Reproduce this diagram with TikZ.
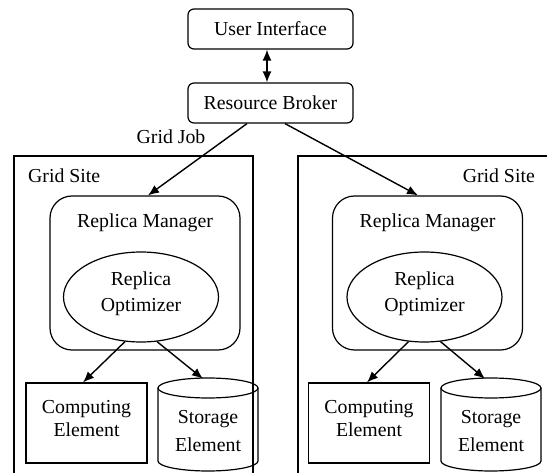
\documentclass[tikz,border=0pt]{standalone}
\usepackage{fontspec}
\setmainfont{Liberation Serif}
\usetikzlibrary{arrows.meta,calc,shapes.geometric}
\begin{document}
\begin{tikzpicture}[x=1pt,y=1pt,
  every node/.style={font=\fontsize{19.8}{27}\selectfont, inner sep=0pt},
  rbox/.style={draw, line width=1.2pt, rounded corners=6pt, minimum width=165pt, minimum height=40pt},
  site/.style={draw, line width=1.2pt},
  mgr/.style={draw, line width=1.2pt, rounded corners=22pt, minimum width=190pt, minimum height=154pt},
  opt/.style={draw, line width=1.2pt, ellipse, minimum width=155pt, minimum height=90pt},
  ce/.style={draw, line width=1.2pt, minimum width=121pt, minimum height=80pt},
  sebox/.style={minimum width=100pt, minimum height=93pt},
  cyl/.style={line width=1.2pt},
  txt/.style={align=center},
  arr/.style={line width=1.4pt, -{Latex[length=11pt,width=9pt]}},
  darr/.style={line width=1.4pt, {Latex[length=11pt,width=9pt]}-{Latex[length=11pt,width=9pt]}},
  lbl/.style={anchor=base}
]
\useasboundingbox (0,0) rectangle (547,-473);
% top
\node[rbox] (ui) at (270.5,-29) {User Interface};
\node[rbox] (rb) at (270.5,-103) {Resource Broker};
\node[lbl] (gj) at (171,-144) {Grid Job};
% sites
\draw[site] (14,-520) -- (14,-156) -- (253,-156) -- (253,-520);
\draw[site] (298,-520) -- (298,-156) -- (600,-156);
\node[lbl, anchor=base west] (gs1) at (28,-183) {Grid Site};
\node[lbl, anchor=base east] (gs2) at (535,-183) {Grid Site};
% left site
\node[mgr] (rm1) at (145,-273) {};
\node[lbl] (rmt1) at (145,-228) {Replica Manager};
\node[opt] (op1) at (141,-297) {};
\node[txt] (opt1) at (141,-293.7) {Replica\\[-0.3pt]Optimizer};
\node[ce] (ce1) at (86.5,-423) {};
\node[txt] (cet1) at (86.5,-418.4) {Computing\\[-3.6pt]Element};
\node[sebox] (se1) at (208,-424.5) {};
\draw[cyl] (158,-388) -- (158,-461) arc[start angle=180,end angle=360,x radius=50,y radius=10] -- (258,-388);
\draw[cyl] (208,-388) ellipse[x radius=50,y radius=10];
\node[txt] (set1) at (208,-430.8) {Storage\\[1.4pt]Element};
% right site
\node[mgr] (rm2) at (427.5,-273) {};
\node[lbl] (rmt2) at (427.5,-228) {Replica Manager};
\node[opt] (op2) at (424.5,-297) {};
\node[txt] (opt2) at (424.5,-293.7) {Replica\\[-0.3pt]Optimizer};
\node[ce] (ce2) at (369,-423) {};
\node[txt] (cet2) at (369,-418.4) {Computing\\[-3.6pt]Element};
\node[sebox] (se2) at (491,-424.5) {};
\draw[cyl] (441,-388) -- (441,-461) arc[start angle=180,end angle=360,x radius=50,y radius=10] -- (541,-388);
\draw[cyl] (491,-388) ellipse[x radius=50,y radius=10];
\node[txt] (set2) at (491,-430.8) {Storage\\[1.4pt]Element};
% connectors
\draw[darr] ([xshift=-3.5pt]ui.south) -- ([xshift=-3.5pt]rb.north);
\draw[arr] ([xshift=-23.5pt]rb.south) -- ([xshift=3pt]rm1.north);
\draw[arr] ([xshift=14.5pt]rb.south) -- ([xshift=-9.5pt]rm2.north);
\draw[arr] ([xshift=-16pt,yshift=1pt]op1.south) -- ([xshift=-3.5pt]ce1.north);
\draw[arr] ([xshift=16pt,yshift=1pt]op1.south) -- ([xshift=-5pt,yshift=-1pt]se1.north);
\draw[arr] ([xshift=-16pt,yshift=1pt]op2.south) -- ([xshift=-2pt]ce2.north);
\draw[arr] ([xshift=16pt,yshift=1pt]op2.south) -- ([xshift=-6pt,yshift=-1pt]se2.north);
\end{tikzpicture}
\end{document}
